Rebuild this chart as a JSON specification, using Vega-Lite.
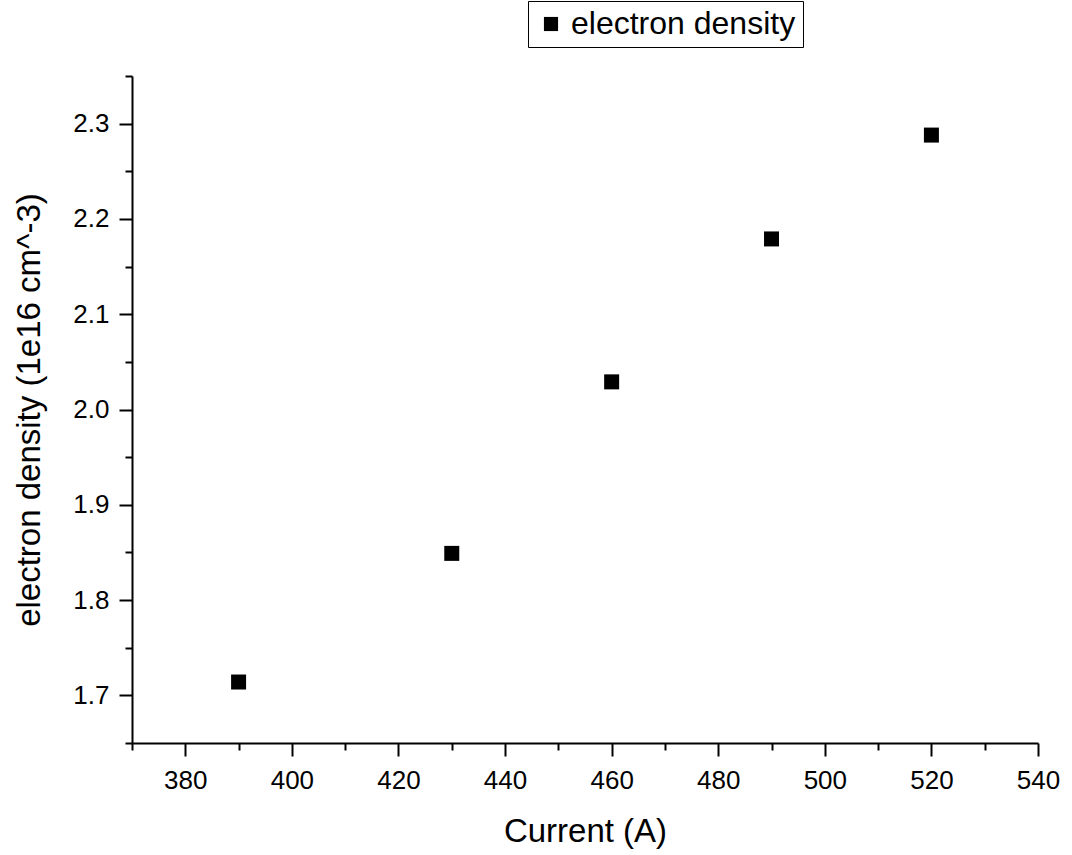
{
  "$schema": "https://vega.github.io/schema/vega-lite/v6.json",
  "autosize": {"type": "none"},
  "width": 906,
  "height": 667,
  "padding": {"left": 132, "top": 76, "right": 34, "bottom": 112},
  "background": "white",
  "config": {
    "view": {"stroke": null},
    "font": "Liberation Sans",
    "axis": {
      "domainColor": "black",
      "domainWidth": 2,
      "tickColor": "black",
      "tickWidth": 2,
      "grid": false,
      "labelColor": "black",
      "titleColor": "black",
      "labelFont": "Liberation Sans",
      "titleFont": "Liberation Sans",
      "labelFontSize": 26,
      "titleFontSize": 33,
      "titleFontWeight": "normal"
    }
  },
  "data": {
    "values": [
      {"current": 390, "density": 1.714},
      {"current": 430, "density": 1.849},
      {"current": 460, "density": 2.029},
      {"current": 490, "density": 2.179},
      {"current": 520, "density": 2.288}
    ]
  },
  "layer": [
    {
      "mark": {"type": "point", "shape": "square", "filled": true, "size": 225, "opacity": 0, "strokeWidth": 0},
      "encoding": {
        "x": {
          "field": "current",
          "type": "quantitative",
          "scale": {"domain": [370, 540], "nice": false, "zero": false},
          "axis": {
            "orient": "bottom",
            "title": null,
            "labels": false,
            "domain": false,
            "values": [370, 390, 410, 430, 450, 470, 490, 510, 530],
            "tickSize": 7
          }
        },
        "y": {
          "field": "density",
          "type": "quantitative",
          "scale": {"domain": [1.65, 2.35], "nice": false, "zero": false},
          "axis": {
            "orient": "left",
            "title": null,
            "labels": false,
            "domain": false,
            "values": [1.65, 1.75, 1.85, 1.95, 2.05, 2.15, 2.25, 2.35],
            "tickSize": 7
          }
        }
      }
    },
    {
      "mark": {"type": "point", "shape": "square", "filled": true, "size": 225, "opacity": 1, "strokeWidth": 0},
      "encoding": {
        "x": {
          "field": "current",
          "type": "quantitative",
          "scale": {"domain": [370, 540], "nice": false, "zero": false},
          "axis": {
            "orient": "bottom",
            "title": "Current (A)",
            "values": [380, 400, 420, 440, 460, 480, 500, 520, 540],
            "tickSize": 13,
            "labelPadding": 11,
            "titlePadding": 22,
            "labelFlush": false,
            "labelOverlap": false
          }
        },
        "y": {
          "field": "density",
          "type": "quantitative",
          "scale": {"domain": [1.65, 2.35], "nice": false, "zero": false},
          "axis": {
            "orient": "left",
            "title": "electron density (1e16 cm^-3)",
            "values": [1.7, 1.8, 1.9, 2.0, 2.1, 2.2, 2.3],
            "format": ".1f",
            "tickSize": 13,
            "labelPadding": 10,
            "titlePadding": 26,
            "labelFlush": false,
            "labelOverlap": false
          }
        },
        "color": {
          "datum": "electron density",
          "type": "nominal",
          "scale": {"range": ["black"]},
          "legend": {
            "title": null,
            "orient": "none",
            "legendX": 396,
            "legendY": -75,
            "strokeColor": "black",
            "padding": 7,
            "symbolType": "square",
            "symbolSize": 200,
            "labelFontSize": 32,
            "labelFont": "Liberation Sans",
            "labelColor": "black",
            "labelOffset": 4,
            "labelLimit": 0
          }
        }
      }
    }
  ],
  "resolve": {"axis": {"x": "independent", "y": "independent"}}
}
